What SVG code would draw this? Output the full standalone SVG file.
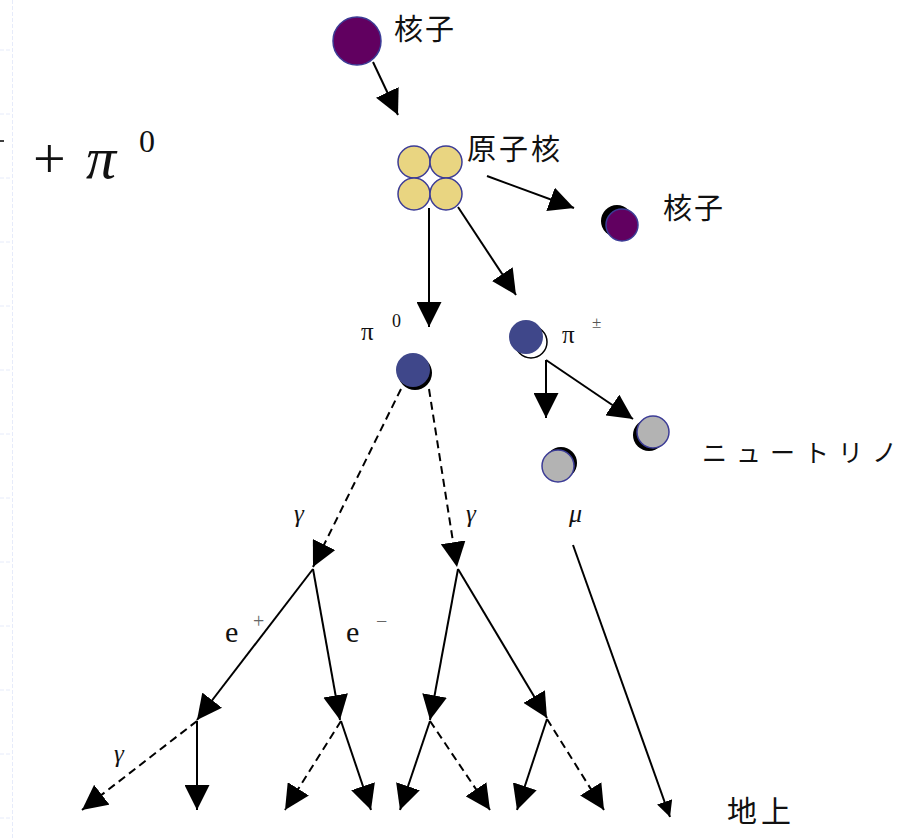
<svg xmlns="http://www.w3.org/2000/svg" width="907" height="838" viewBox="0 0 907 838">
<style>
.c{stroke:#000;stroke-width:2;fill:none}
.d{stroke-dasharray:8 5}
.pur{fill:#610060;stroke:#3c3c96;stroke-width:1.5}
.yel{fill:#e9d581;stroke:#3c3c96;stroke-width:1.5}
.blu{fill:#3f478a}
.gry{fill:#b3b3b3;stroke:#3c3c96;stroke-width:1.5}
.grid{stroke:#e6ebfa;stroke-width:1;stroke-dasharray:4 2}
</style>
<defs>
<marker id="ah" viewBox="0 0 25 25" refX="25" refY="12.5" markerWidth="25" markerHeight="25" markerUnits="userSpaceOnUse" orient="auto"><path d="M0,0 L25,12.5 L0,25 z" fill="#000"/></marker>
<marker id="sh" viewBox="0 0 16 16" refX="16" refY="8" markerWidth="16" markerHeight="16" markerUnits="userSpaceOnUse" orient="auto"><path d="M0,0 L16,8 L0,16 z" fill="#000"/></marker>
</defs>
<rect width="907" height="838" fill="#fff"/>
<g id="edge">
<line class="grid" x1="12.5" y1="0" x2="12.5" y2="838"/>
<path class="grid" d="M0,50H12M0,114H12M0,178H12M0,242H12M0,306H12M0,370H12M0,434H12M0,498H12M0,562H12M0,626H12M0,690H12M0,754H12M0,818H12"/>
<line x1="0" y1="141" x2="4" y2="141" stroke="#000" stroke-width="1.5"/>
</g>
<g id="formula" fill="#111">
<text x="33" y="178" style="font-family:'Liberation Serif',serif !important;font-size:58px">+</text>
<text x="86" y="178" style="font-family:'Liberation Serif',serif !important;font-size:60px;font-style:italic">π</text>
<text x="139" y="152" style="font-family:'Liberation Serif',serif !important;font-size:32px">0</text>
</g>
<g id="connectors">
<line class="c" x1="373" y1="62" x2="398" y2="115" marker-end="url(#ah)"/>
<line class="c" x1="487" y1="176" x2="574" y2="208" marker-end="url(#ah)"/>
<line class="c" x1="429" y1="208" x2="429" y2="327" marker-end="url(#ah)"/>
<line class="c" x1="458" y1="207" x2="516" y2="295" marker-end="url(#ah)"/>
<line class="c" x1="546" y1="360" x2="546" y2="418" marker-end="url(#ah)"/>
<line class="c" x1="546" y1="360" x2="633" y2="419" marker-end="url(#ah)"/>
<line class="c" x1="573" y1="545" x2="670" y2="817" stroke-width="1.5" marker-end="url(#sh)"/>
<line class="c d" x1="401" y1="389" x2="313" y2="567" marker-end="url(#ah)"/>
<line class="c d" x1="429" y1="389" x2="457" y2="567" marker-end="url(#ah)"/>
<line class="c" x1="313" y1="569" x2="197" y2="720" marker-end="url(#ah)"/>
<line class="c" x1="313" y1="569" x2="340" y2="720" marker-end="url(#ah)"/>
<line class="c" x1="458" y1="569" x2="430" y2="720" marker-end="url(#ah)"/>
<line class="c" x1="458" y1="569" x2="547" y2="718" marker-end="url(#ah)"/>
<line class="c d" x1="197" y1="721" x2="82" y2="810" marker-end="url(#ah)"/>
<line class="c" x1="197" y1="721" x2="197" y2="810" marker-end="url(#ah)"/>
<line class="c d" x1="341" y1="721" x2="285" y2="810" marker-end="url(#ah)"/>
<line class="c" x1="341" y1="721" x2="371" y2="810" marker-end="url(#ah)"/>
<line class="c" x1="430" y1="721" x2="400" y2="810" marker-end="url(#ah)"/>
<line class="c d" x1="430" y1="721" x2="490" y2="810" marker-end="url(#ah)"/>
<line class="c" x1="547" y1="719" x2="517" y2="810" marker-end="url(#ah)"/>
<line class="c d" x1="547" y1="719" x2="604" y2="810" marker-end="url(#ah)"/>
</g>
<g id="nucleon-top">
<circle class="pur" cx="357" cy="41" r="24"/>
<text x="394" y="40" fill="#111" style="font-family:'Noto Sans CJK JP',sans-serif;font-size:29px;letter-spacing:2px">核子</text>
</g>
<g id="nucleus">
<circle class="yel" cx="414" cy="162" r="16"/>
<circle class="yel" cx="446" cy="162" r="16"/>
<circle class="yel" cx="414" cy="194" r="16"/>
<circle class="yel" cx="446" cy="194" r="16"/>
<text x="467" y="160" fill="#111" style="font-family:'Noto Sans CJK JP',sans-serif;font-size:29px;letter-spacing:3px">原子核</text>
</g>
<g id="nucleon-out">
<circle cx="617" cy="221" r="16" fill="#000"/>
<circle class="pur" cx="622" cy="225" r="16"/>
<text x="663" y="219" fill="#111" style="font-family:'Noto Sans CJK JP',sans-serif;font-size:29px;letter-spacing:2px">核子</text>
</g>
<g id="pi0" fill="#111">
<circle cx="415" cy="373" r="17" fill="#000"/>
<circle class="blu" cx="413" cy="370" r="17"/>
<text x="361" y="340" style="font-family:'Liberation Serif',serif !important;font-size:25px">π</text>
<text x="392" y="327" style="font-family:'Liberation Serif',serif !important;font-size:18px">0</text>
</g>
<g id="pipm" fill="#111">
<circle cx="531" cy="342" r="16" fill="#fff" stroke="#000" stroke-width="1.5"/>
<circle class="blu" cx="526" cy="337" r="17"/>
<text x="562" y="343" style="font-family:'Liberation Serif',serif !important;font-size:25px">π</text>
<text x="592" y="328" fill="#555" style="font-family:'Liberation Serif',serif !important;font-size:17px">±</text>
</g>
<g id="neutrino">
<circle cx="649" cy="435" r="16" fill="#000"/>
<circle class="gry" cx="653" cy="432" r="16"/>
<text x="702" y="462" textLength="195" lengthAdjust="spacing" fill="#111" style="font-family:'Noto Sans CJK JP',sans-serif;font-size:25px">ニュートリノ</text>
</g>
<g id="muon">
<circle cx="561" cy="463" r="16" fill="#000"/>
<circle class="gry" cx="558" cy="466" r="16"/>
<text x="569" y="522" fill="#111" style="font-family:'Liberation Serif',serif !important;font-size:26px;font-style:italic">μ</text>
</g>
<g id="labels" fill="#111">
<text x="294" y="522" style="font-family:'Liberation Serif',serif !important;font-size:25px;font-style:italic">γ</text>
<text x="466" y="522" style="font-family:'Liberation Serif',serif !important;font-size:25px;font-style:italic">γ</text>
<text x="225" y="642" style="font-family:'Liberation Serif',serif !important;font-size:30px">e</text>
<text x="253" y="628" fill="#666" style="font-family:'Liberation Serif',serif !important;font-size:20px">+</text>
<text x="346" y="642" style="font-family:'Liberation Serif',serif !important;font-size:30px">e</text>
<text x="376" y="628" fill="#666" style="font-family:'Liberation Serif',serif !important;font-size:20px">−</text>
<text x="114" y="762" style="font-family:'Liberation Serif',serif !important;font-size:25px;font-style:italic">γ</text>
<text x="727" y="822" style="font-family:'Noto Sans CJK JP',sans-serif;font-size:30px;letter-spacing:4px">地上</text>
</g>
</svg>
